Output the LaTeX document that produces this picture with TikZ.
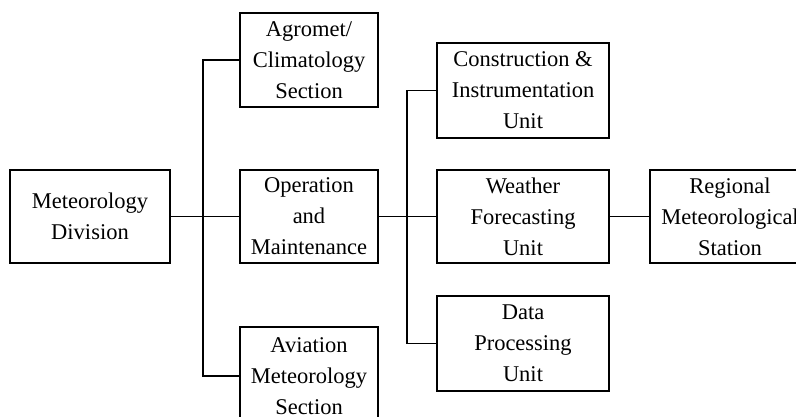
\documentclass[tikz,border=0pt]{standalone}
\usepackage{fontspec}
\setmainfont{Liberation Serif}
\begin{document}
\begin{tikzpicture}[x=1pt,y=-1pt,
  box/.style={draw=black,line width=2.8pt,fill=white,inner sep=0pt,align=center,
    font=\fontsize{22.5}{31}\selectfont},
  conn/.style={draw=black,line width=1.4pt}]
\useasboundingbox (0,0) rectangle (796,417);
\node[box,minimum width=160pt,minimum height=93pt] (md) at (90,216.5) {Meteorology\\Division};
\node[box,minimum width=138pt,minimum height=94pt] (agro) at (309,60) {Agromet/\\Climatology\\Section};
\node[box,minimum width=138pt,minimum height=93pt] (op) at (309,216.5) {Operation\\and\\Maintenance};
\node[box,minimum width=138pt,minimum height=98pt] (av) at (309,376) {Aviation\\Meteorology\\Section};
\node[box,minimum width=172pt,minimum height=95pt] (con) at (523,90.5) {Construction \&\\Instrumentation\\Unit};
\node[box,minimum width=172pt,minimum height=93pt] (wf) at (523,216.5) {Weather\\Forecasting\\Unit};
\node[box,minimum width=172pt,minimum height=95pt] (dp) at (523,343.5) {Data\\Processing\\Unit};
\node[box,minimum width=160pt,minimum height=93pt] (reg) at (730,216.5) {Regional\\Meteorological\\Station};
\coordinate (trA) at (203,0);
\coordinate (trB) at (407,0);
\draw[conn] (md.east) -- (op.west);
\draw[conn] (agro.west) -- (agro.west -| trA) -- (av.west -| trA) -- (av.west);
\draw[conn] (op.east) -- (wf.west);
\draw[conn] (con.west) -- (con.west -| trB) -- (dp.west -| trB) -- (dp.west);
\draw[conn] (wf.east) -- (reg.west);
\end{tikzpicture}
\end{document}
